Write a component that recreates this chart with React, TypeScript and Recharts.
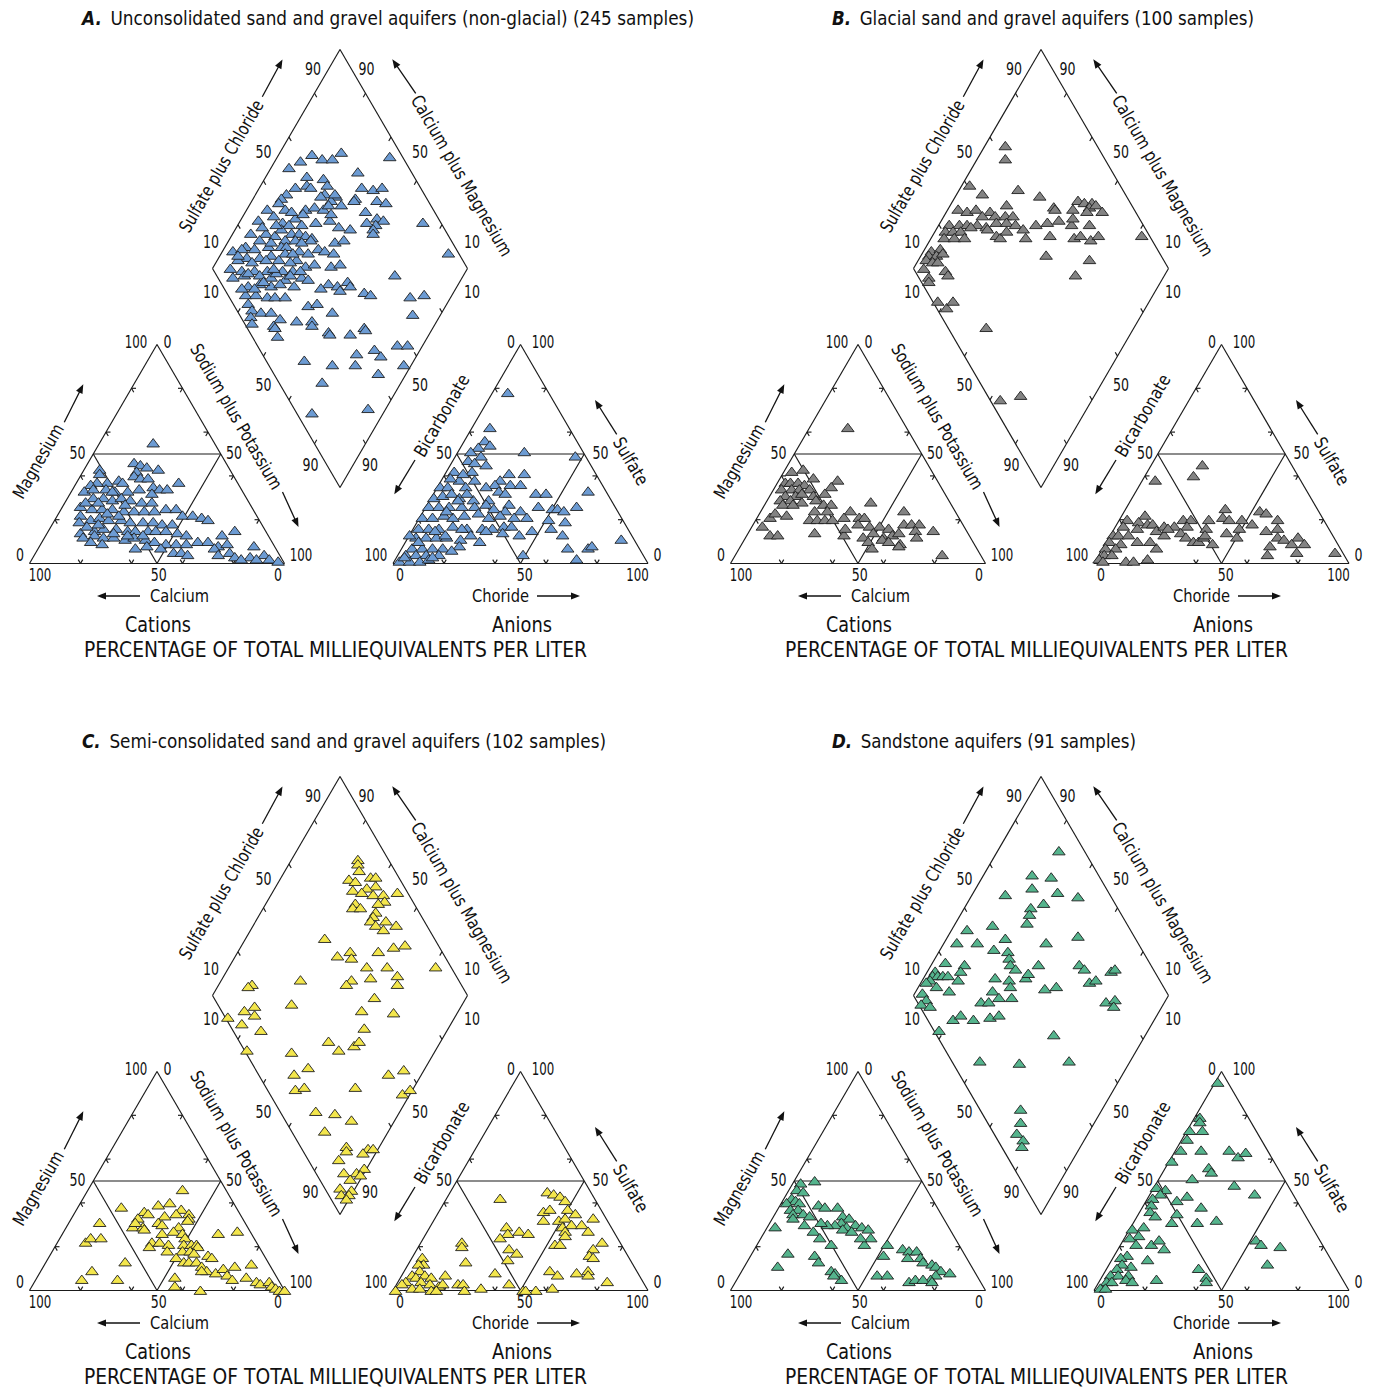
import React from 'react';
import { ScatterChart, Scatter, XAxis, YAxis, ReferenceLine } from 'recharts';

type Pair = [number, number];

// ---------------- DATA ----------------
// Cation triangle: [Calcium %, Magnesium %]  (Na+K = 100 - Ca - Mg)
// Anion triangle: [Chloride %, Sulfate %]    (HCO3 = 100 - Cl - SO4)
// Diamond: [Na+K %, SO4+Cl %]

const aCation: Pair[] = [[24,55],[36,46],[34,45],[32,44],[28,43],[37,42],[39,40],[37,39],[34,39],[23,37],[51,43],[52,41],[51,37],[46,38],[45,37],[55,37],[58,36],[62,33],[58,34],[53,34],[50,33],[45,33],[40,34],[34,35],[32,34],[29,34],[36,32],[67,26],[60,30],[56,30],[53,29],[49,30],[46,29],[42,28],[38,28],[34,25],[30,25],[69,22],[63,25],[59,25],[55,25],[51,24],[47,24],[43,24],[39,24],[29,22],[25,22],[22,21],[20,20],[71,19],[66,20],[62,21],[59,20],[54,20],[51,19],[46,19],[42,19],[39,18],[35,18],[73,14],[67,15],[63,16],[58,16],[54,15],[51,15],[46,15],[43,15],[39,15],[35,14],[32,13],[29,10],[73,12],[68,13],[65,12],[61,12],[57,11],[53,12],[49,11],[46,10],[42,9],[38,9],[34,9],[25,10],[22,8],[18,13],[12,15],[18,9],[45,7],[41,5],[38,5],[36,4],[24,7],[19,5],[24,4],[18,3],[12,3],[8,8],[6,4],[10,2],[5,2],[2,1],[16,2],[64,28],[59,28],[58,23],[54,22],[69,17],[64,18],[60,14],[55,13],[49,13],[71,10],[67,9],[55,7],[50,8],[51,33],[49,27]];
const aAnion: Pair[] = [[6,78],[7,62],[8,56],[11,54],[7,53],[5,51],[26,51],[47,49],[6,47],[10,49],[9,46],[14,45],[10,42],[3,42],[25,41],[31,41],[23,38],[1,35],[4,35],[7,38],[11,35],[22,36],[28,36],[32,36],[1,30],[4,31],[7,32],[11,30],[17,29],[23,29],[25,33],[28,32],[40,32],[44,32],[60,33],[1,26],[5,26],[9,26],[14,26],[19,26],[23,27],[27,25],[32,27],[32,24],[38,24],[44,26],[50,25],[52,25],[55,24],[59,26],[1,21],[5,21],[9,22],[13,21],[17,22],[22,23],[27,21],[31,22],[37,21],[42,21],[51,20],[58,19],[2,16],[6,16],[10,16],[15,17],[21,16],[27,16],[31,16],[35,17],[38,17],[47,15],[54,16],[3,12],[7,12],[11,12],[15,12],[21,11],[29,10],[29,15],[36,14],[43,13],[60,13],[84,11],[4,7],[8,7],[12,7],[16,7],[22,8],[65,7],[73,7],[74,8],[3,4],[7,4],[11,4],[16,4],[49,4],[71,2],[2,1],[6,1],[10,1],[13,2],[3,3],[0,13],[5,10],[9,15],[9,24],[11,29],[13,32],[14,13],[24,13],[19,16],[20,6],[14,3],[3,39],[7,41],[13,38],[19,35]];
const aDiamond: Pair[] = [[24,77],[44,95],[13,65],[10,59],[18,68],[22,72],[7,53],[35,79],[16,58],[23,64],[14,51],[18,56],[20,57],[26,64],[40,77],[45,81],[48,85],[12,46],[11,43],[27,61],[32,65],[40,72],[40,71],[49,80],[53,83],[11,41],[31,62],[36,65],[8,35],[15,42],[23,50],[26,54],[30,57],[31,60],[47,73],[12,36],[21,44],[30,51],[35,57],[17,38],[53,76],[56,78],[7,29],[25,45],[20,40],[54,74],[50,71],[72,93],[7,23],[13,29],[17,32],[18,36],[23,39],[26,42],[29,44],[32,46],[40,59],[45,63],[54,72],[55,71],[22,35],[26,39],[32,45],[12,25],[8,18],[4,12],[7,16],[12,21],[17,27],[22,32],[24,34],[37,46],[42,54],[45,58],[40,48],[44,51],[30,38],[34,41],[11,16],[16,21],[20,26],[25,32],[31,35],[8,12],[14,17],[24,28],[29,32],[36,37],[39,41],[89,96],[7,7],[12,11],[17,16],[22,21],[28,27],[32,31],[46,47],[49,51],[73,70],[10,6],[14,11],[20,17],[25,21],[31,26],[37,33],[40,35],[49,42],[56,50],[58,50],[18,10],[22,15],[27,19],[30,23],[36,28],[47,38],[53,45],[55,45],[65,54],[68,56],[84,71],[89,77],[19,7],[23,11],[28,15],[31,18],[35,22],[22,6],[25,6],[29,9],[33,13],[38,15],[45,21],[51,27],[26,4],[28,3],[52,26],[37,11],[38,11],[41,10],[46,29],[49,33],[57,37],[89,68],[60,31],[61,31],[69,39],[73,46],[74,46],[90,55],[94,59],[82,45],[86,46],[76,37],[78,34],[57,15],[69,25],[97,53],[89,41],[69,17],[72,6],[93,29],[7,13],[15,13],[23,17],[26,24],[32,29],[19,23],[24,24],[35,34],[21,12],[16,7],[28,35],[17,29],[29,41],[15,35],[18,44],[23,48],[34,59],[31,65],[26,59],[10,29]];

const bCation: Pair[] = [[23,62],[50,43],[55,42],[48,39],[39,38],[43,35],[60,37],[58,37],[55,37],[53,36],[63,34],[59,34],[56,34],[52,34],[63,31],[59,31],[56,32],[52,31],[47,32],[66,29],[62,29],[58,28],[66,27],[62,27],[52,29],[50,27],[47,27],[55,24],[50,24],[41,24],[31,28],[74,21],[67,22],[71,23],[59,20],[56,20],[53,20],[50,20],[45,21],[79,17],[78,13],[75,13],[60,14],[49,13],[47,16],[39,21],[37,21],[41,18],[37,17],[33,17],[30,16],[37,14],[34,12],[30,13],[27,14],[42,12],[41,10],[41,7],[35,11],[33,10],[29,9],[30,8],[20,24],[23,18],[20,18],[17,18],[20,15],[21,12],[13,15],[15,4]];
const bAnion: Pair[] = [[20,45],[19,40],[5,38],[3,20],[3,17],[9,22],[8,19],[12,18],[14,18],[17,15],[19,17],[23,17],[25,20],[28,20],[28,17],[27,14],[30,12],[34,10],[36,10],[37,12],[35,20],[36,16],[37,13],[42,9],[39,25],[40,21],[43,20],[48,20],[49,16],[53,18],[53,24],[56,23],[62,20],[60,15],[64,16],[66,12],[69,11],[74,12],[73,9],[78,9],[45,14],[50,12],[65,8],[66,4],[77,5],[92,5],[1,13],[3,13],[1,10],[6,9],[1,7],[5,7],[2,4],[5,4],[1,2],[3,1],[12,1],[15,1],[20,2],[21,7],[21,13],[21,16],[12,10],[17,10],[7,13],[9,16]];
const bDiamond: Pair[] = [[8,64],[11,61],[3,41],[10,44],[23,59],[33,66],[41,69],[42,69],[49,80],[52,82],[55,85],[55,83],[57,86],[61,87],[55,81],[49,76],[4,31],[8,34],[11,38],[17,43],[20,44],[22,51],[24,48],[27,51],[15,39],[15,35],[19,38],[4,24],[8,28],[11,31],[22,43],[26,47],[30,50],[34,52],[38,58],[42,63],[46,68],[52,72],[51,74],[59,79],[4,21],[7,24],[10,27],[13,32],[5,19],[9,23],[13,27],[20,38],[25,40],[27,41],[28,45],[37,51],[46,61],[56,70],[58,73],[63,76],[65,80],[82,97],[49,55],[67,71],[65,62],[3,11],[6,15],[3,9],[6,12],[8,15],[3,7],[6,9],[8,11],[13,12],[15,12],[4,4],[8,4],[9,3],[17,2],[22,4],[23,8],[42,15],[64,4],[71,13]];

const cCation: Pair[] = [[17,46],[45,38],[30,39],[25,40],[22,37],[37,36],[36,35],[25,35],[20,35],[41,33],[30,34],[21,33],[57,31],[45,29],[41,29],[41,28],[34,31],[33,30],[27,29],[22,32],[43,31],[35,26],[30,27],[27,26],[27,24],[13,26],[5,27],[67,22],[64,24],[60,24],[41,22],[38,22],[35,21],[29,21],[26,21],[24,21],[24,20],[43,20],[37,18],[31,18],[28,18],[27,17],[22,16],[21,15],[35,15],[33,13],[31,13],[28,13],[27,11],[26,9],[23,8],[28,9],[19,10],[14,11],[7,12],[56,13],[71,9],[77,5],[63,5],[40,6],[42,2],[33,0],[19,7],[18,5],[12,6],[9,4],[8,3],[4,4],[4,2],[3,1],[2,0],[0,0]];
const cAnion: Pair[] = [[21,42],[38,45],[41,44],[44,43],[47,41],[41,36],[43,37],[50,37],[54,35],[43,32],[49,32],[51,33],[55,30],[59,30],[63,27],[62,33],[30,29],[32,26],[30,24],[36,27],[40,26],[52,29],[54,27],[55,25],[53,21],[55,21],[71,22],[16,22],[17,20],[36,19],[40,17],[38,14],[22,13],[69,19],[69,16],[71,15],[57,9],[61,7],[68,8],[72,9],[73,7],[36,8],[44,3],[82,4],[4,15],[6,12],[4,12],[6,9],[4,7],[3,4],[6,6],[9,7],[12,6],[17,7],[9,4],[13,3],[17,2],[18,3],[2,3],[1,0],[7,1],[10,1],[15,0],[17,0],[24,3],[26,3],[28,0],[34,1],[51,0],[56,0],[62,1],[52,0]];
const cDiamond: Pair[] = [[26,88],[27,87],[29,86],[27,80],[30,82],[35,89],[37,91],[39,89],[36,85],[31,79],[35,82],[40,86],[44,90],[49,96],[35,77],[46,89],[35,75],[38,78],[44,86],[45,83],[51,85],[45,81],[45,79],[48,80],[52,82],[56,88],[31,57],[60,82],[64,87],[40,58],[44,64],[46,63],[55,75],[54,67],[62,75],[81,94],[68,77],[70,75],[31,38],[51,58],[50,55],[58,66],[64,63],[13,18],[12,16],[33,29],[19,14],[16,9],[21,12],[11,1],[18,5],[27,11],[62,55],[75,67],[67,52],[56,35],[62,37],[67,44],[68,47],[26,1],[44,18],[54,21],[50,14],[54,11],[57,15],[77,35],[87,51],[92,58],[97,52],[99,56],[67,14],[75,21],[83,26],[75,13],[87,18],[88,17],[96,26],[98,28],[87,12],[95,23],[92,11],[97,16],[99,20],[96,12],[99,17],[94,6],[99,10],[96,5],[99,8],[99,6]];

const dCation: Pair[] = [[48,49],[42,50],[51,46],[49,45],[55,42],[54,41],[58,40],[53,40],[58,37],[55,37],[58,35],[54,35],[52,34],[59,33],[56,30],[46,39],[44,38],[39,38],[39,34],[37,33],[41,31],[36,30],[40,29],[44,30],[47,30],[49,31],[42,28],[39,27],[34,29],[32,28],[33,24],[37,21],[37,24],[68,29],[54,27],[53,24],[50,21],[69,17],[59,16],[59,13],[76,11],[56,9],[55,8],[54,5],[56,7],[28,21],[32,16],[39,7],[35,7],[23,19],[21,18],[18,18],[23,15],[18,15],[18,13],[15,12],[14,11],[13,9],[10,8],[16,7],[19,5],[28,4],[25,5],[22,5],[19,4]];
const dAnion: Pair[] = [[1,95],[2,79],[3,77],[1,73],[6,73],[2,69],[2,64],[10,64],[21,64],[26,61],[28,63],[1,59],[17,56],[19,54],[13,51],[31,48],[41,44],[5,46],[1,47],[4,44],[2,42],[15,43],[12,41],[3,39],[4,36],[7,34],[23,38],[15,35],[15,31],[25,31],[32,32],[5,29],[1,28],[5,25],[2,24],[6,21],[12,21],[14,23],[18,19],[52,23],[55,21],[63,20],[62,12],[5,16],[3,15],[9,11],[14,14],[5,12],[4,10],[3,7],[6,7],[10,7],[3,4],[5,4],[10,5],[13,4],[2,1],[4,1],[22,5],[36,10],[41,6],[42,4]];
const dDiamond: Pair[] = [[24,90],[19,74],[27,81],[22,71],[33,80],[13,59],[42,87],[30,72],[26,66],[27,64],[28,61],[6,36],[15,47],[5,29],[13,37],[23,49],[40,64],[51,78],[21,42],[27,47],[29,46],[5,20],[13,27],[13,24],[31,45],[34,46],[42,56],[58,72],[61,73],[72,83],[73,85],[66,72],[68,75],[3,14],[3,12],[5,14],[7,16],[9,18],[3,10],[2,8],[7,11],[14,21],[13,15],[28,36],[34,41],[36,40],[40,48],[40,50],[30,32],[34,33],[28,25],[31,28],[39,38],[50,53],[54,58],[77,74],[80,78],[81,76],[3,4],[6,4],[5,1],[9,4],[21,10],[23,14],[29,18],[35,25],[38,29],[18,2],[64,46],[41,11],[57,26],[76,46],[68,16],[71,13],[72,9],[76,10],[77,8]];

const panelLetters = ['A.', 'B.', 'C.', 'D.'];
const panelTitles = [
  'Unconsolidated sand and gravel aquifers (non-glacial) (245 samples)',
  'Glacial sand and gravel aquifers (100 samples)',
  'Semi-consolidated sand and gravel aquifers (102 samples)',
  'Sandstone aquifers (91 samples)',
];
const panelColors = ['#6c9bd3', '#838383', '#f3e64c', '#55b48d'];

// ---------------- LAYOUT ----------------
const PAGE_W = 1374;
const PAGE_H = 1392;
const FONT = "'Liberation Sans Narrow','Arial Narrow','DejaVu Sans Condensed','Roboto Condensed','Liberation Sans',sans-serif";

const SIDE = 255;
const TRI_H = 219;
const CAT_X0 = 29.5;
const AN_X0 = 393;
const BASE_Y = 563.5;
const DIA_LX = 212.5;
const DIA_LY = 268.5;

const panelLayout = [
  { ox: 0, oy: 0, tx: 82, ty: 18, tw: 612 },
  { ox: 701, oy: 0, tx: 131, ty: 18, tw: 422 },
  { ox: 0, oy: 727, tx: 82, ty: 14, tw: 524 },
  { ox: 701, oy: 727, tx: 131, ty: 14, tw: 304 },
];

const cationPt = (ca: number, mg: number, ox: number, oy: number) => {
  const nak = 100 - ca - mg;
  return { x: ox + CAT_X0 + SIDE * (nak + mg / 2) / 100, y: oy + BASE_Y - TRI_H * mg / 100 };
};
const anionPt = (cl: number, so4: number, ox: number, oy: number) => ({
  x: ox + AN_X0 + SIDE * (cl + so4 / 2) / 100,
  y: oy + BASE_Y - TRI_H * so4 / 100,
});
const diamondPt = (nak: number, a: number, ox: number, oy: number) => ({
  x: ox + DIA_LX + (SIDE / 2) * (a + nak) / 100,
  y: oy + DIA_LY + TRI_H * (nak - a) / 100,
});

const panelData = [
  [aCation, aAnion, aDiamond],
  [bCation, bAnion, bDiamond],
  [cCation, cAnion, cDiamond],
  [dCation, dAnion, dDiamond],
];

type Seg = [number, number, number, number];

function buildSegments(ox: number, oy: number): Seg[] {
  const segs: Seg[] = [];
  const L = 4.5;
  const norm = (dx: number, dy: number) => {
    const l = Math.hypot(dx, dy);
    return [dx / l, dy / l];
  };
  const upR = norm(SIDE / 2, -TRI_H);
  const upL = norm(-SIDE / 2, -TRI_H);
  const fr = [0.2, 0.4, 0.6, 0.8];
  [CAT_X0, AN_X0].forEach((bx0) => {
    const bx = ox + bx0, by = oy + BASE_Y;
    const BL = [bx, by], BR = [bx + SIDE, by], T = [bx + SIDE / 2, by - TRI_H];
    segs.push([BL[0], BL[1], BR[0], BR[1]], [BR[0], BR[1], T[0], T[1]], [T[0], T[1], BL[0], BL[1]]);
    const mL = [(BL[0] + T[0]) / 2, (BL[1] + T[1]) / 2];
    const mR = [(BR[0] + T[0]) / 2, (BR[1] + T[1]) / 2];
    const mB = [(BL[0] + BR[0]) / 2, BL[1]];
    segs.push([mL[0], mL[1], mR[0], mR[1]], [mR[0], mR[1], mB[0], mB[1]], [mB[0], mB[1], mL[0], mL[1]]);
    fr.forEach((f) => {
      const pb = [BL[0] + f * SIDE, BL[1]];
      segs.push([pb[0], pb[1], pb[0] + upL[0] * L, pb[1] + upL[1] * L], [pb[0], pb[1], pb[0] + upR[0] * L, pb[1] + upR[1] * L]);
      const pl = [BL[0] + f * (T[0] - BL[0]), BL[1] + f * (T[1] - BL[1])];
      segs.push([pl[0], pl[1], pl[0] + L, pl[1]], [pl[0], pl[1], pl[0] - upL[0] * L, pl[1] - upL[1] * L]);
      const pr = [BR[0] + f * (T[0] - BR[0]), BR[1] + f * (T[1] - BR[1])];
      segs.push([pr[0], pr[1], pr[0] - L, pr[1]], [pr[0], pr[1], pr[0] - upR[0] * L, pr[1] - upR[1] * L]);
    });
  });
  const Lv = [ox + DIA_LX, oy + DIA_LY];
  const Tv = [Lv[0] + SIDE / 2, Lv[1] - TRI_H];
  const Rv = [Lv[0] + SIDE, Lv[1]];
  const Bv = [Lv[0] + SIDE / 2, Lv[1] + TRI_H];
  segs.push([Lv[0], Lv[1], Tv[0], Tv[1]], [Tv[0], Tv[1], Rv[0], Rv[1]], [Rv[0], Rv[1], Bv[0], Bv[1]], [Bv[0], Bv[1], Lv[0], Lv[1]]);
  const u = norm(SIDE / 2, -TRI_H);
  const v = norm(SIDE / 2, TRI_H);
  const edges: [number[], number[], number[]][] = [
    [Lv, Tv, v],
    [Tv, Rv, [-u[0], -u[1]]],
    [Lv, Bv, u],
    [Bv, Rv, [-v[0], -v[1]]],
  ];
  edges.forEach(([a, b, d]) => {
    fr.forEach((f) => {
      const p = [a[0] + f * (b[0] - a[0]), a[1] + f * (b[1] - a[1])];
      segs.push([p[0], p[1], p[0] + d[0] * L, p[1] + d[1] * L]);
    });
  });
  return segs;
}

type Lab = {
  x: number; y: number; kind: 'text' | 'arrow' | 'title';
  text?: string; letter?: string; size?: number; len?: number; rot?: number;
  hx?: number; hy?: number;
};

function buildLabels(i: number): Lab[] {
  const { ox, oy, tx, ty, tw } = panelLayout[i];
  const out: Lab[] = [];
  const t = (text: string, x: number, y: number, size: number, len?: number, rot?: number) =>
    out.push({ kind: 'text', text, x: ox + x, y: oy + y, size, len, rot });
  const a = (x: number, y: number, hx: number, hy: number) =>
    out.push({ kind: 'arrow', x: ox + x, y: oy + y, hx: ox + hx, hy: oy + hy });
  const n = 17.5;
  const al = 18;
  const dia: [string, number, number][] = [
    ['90', 313, 69], ['90', 366.5, 69], ['50', 263.5, 152], ['50', 420, 152],
    ['10', 211, 241.5], ['10', 472, 241.5], ['10', 211, 291.5], ['10', 472, 291.5],
    ['50', 263.5, 385], ['50', 420, 385], ['90', 310.5, 465], ['90', 370, 465],
  ];
  const tri: [string, number, number][] = [
    ['100', 136, 342], ['0', 167.5, 342], ['50', 77.5, 452.5], ['50', 234, 452.5],
    ['0', 20, 555], ['100', 301, 555], ['100', 40, 575], ['50', 158.7, 575], ['0', 278, 575],
    ['0', 511, 342], ['100', 543, 342], ['50', 444, 452.5], ['50', 600.5, 452.5],
    ['100', 376, 555], ['0', 657.5, 555], ['0', 400, 575], ['50', 524.7, 575], ['100', 637.5, 575],
  ];
  [...dia, ...tri].forEach(([s, x, y]) => t(s, x, y, n, s.length === 1 ? 8 : s.length === 2 ? 16 : 22.5));
  t('Sulfate plus Chloride', 221, 166, al, 150, -59.8);
  t('Calcium plus Magnesium', 462, 175.5, al, 183, 59.8);
  t('Magnesium', 38, 461, al, 83, -59.8);
  t('Sodium plus Potassium', 236.5, 416.5, al, 165, 59.8);
  t('Bicarbonate', 441.5, 415.5, al, 92, -59.8);
  t('Sulfate', 631, 461, al, 52, 59.8);
  t('Calcium', 179.5, 596, 17, 59);
  t('Choride', 500.5, 596, 17, 57);
  t('Cations', 158, 625, 20.5, 66);
  t('Anions', 522, 625, 20.5, 60);
  t('PERCENTAGE OF TOTAL MILLIEQUIVALENTS PER LITER', 335.5, 650, 20.5, 503);
  a(262.3, 96.7, 282.5, 59.5);
  a(415.7, 93.3, 392.3, 59.3);
  a(64.3, 422.3, 83.3, 384.3);
  a(282.5, 492, 298.5, 527);
  a(415, 460, 394.3, 494.3);
  a(616.7, 434.3, 595, 400);
  a(140, 596, 97, 596);
  a(537, 596, 580, 596);
  out.push({ kind: 'title', x: ox + tx, y: oy + ty, letter: panelLetters[i], text: panelTitles[i], size: 19.5, len: tw });
  return out;
}

const LabelShape = (props: any) => {
  const { cx, cy, payload } = props;
  if (cx == null || cy == null || !payload) return null;
  const p = payload as Lab;
  if (p.kind === 'text') {
    return (
      <text
        x={cx}
        y={cy}
        textAnchor="middle"
        dominantBaseline="central"
        fontSize={p.size}
        fontFamily={FONT}
        fill="#111"
        textLength={p.len}
        lengthAdjust="spacingAndGlyphs"
        transform={p.rot ? `rotate(${p.rot} ${cx} ${cy})` : undefined}
      >
        {p.text}
      </text>
    );
  }
  if (p.kind === 'arrow') {
    const dx = (p.hx as number) - p.x;
    const dy = (p.hy as number) - p.y;
    const len = Math.hypot(dx, dy);
    const ux = dx / len, uy = dy / len;
    const x2 = cx + dx, y2 = cy + dy;
    const hl = 9, hw = 3.6;
    const bx = x2 - ux * hl, by = y2 - uy * hl;
    return (
      <g>
        <line x1={cx} y1={cy} x2={bx + ux * 1} y2={by + uy * 1} stroke="#111" strokeWidth={1.3} />
        <polygon points={`${x2},${y2} ${bx - uy * hw},${by + ux * hw} ${bx + uy * hw},${by - ux * hw}`} fill="#111" />
      </g>
    );
  }
  if (p.kind === 'title') {
    return (
      <text x={cx} y={cy} dominantBaseline="central" fontSize={p.size} fontFamily={FONT} fill="#111" textLength={p.len} lengthAdjust="spacingAndGlyphs">
        <tspan fontWeight="bold" fontStyle="italic">{p.letter}</tspan>
        <tspan dx={9}>{p.text}</tspan>
      </text>
    );
  }
  return null;
};

const makeTri = (color: string) => (props: any) => {
  const { cx, cy } = props;
  if (cx == null || cy == null) return null;
  return (
    <polygon
      points={`${cx},${cy - 4.5} ${cx + 6.3},${cy + 3.9} ${cx - 6.3},${cy + 3.9}`}
      fill={color}
      stroke="#1e1e1e"
      strokeWidth={0.9}
      strokeLinejoin="miter"
    />
  );
};

export default function App() {
  const segs: Seg[] = [];
  panelLayout.forEach((pl) => segs.push(...buildSegments(pl.ox, pl.oy)));
  const labels: Lab[] = [];
  panelLayout.forEach((_, i) => labels.push(...buildLabels(i)));
  const pointSets = panelData.map(([cat, an, dia], i) => {
    const { ox, oy } = panelLayout[i];
    return [
      ...cat.map(([ca, mg]) => cationPt(ca, mg, ox, oy)),
      ...an.map(([cl, so4]) => anionPt(cl, so4, ox, oy)),
      ...dia.map(([nak, sc]) => diamondPt(nak, sc, ox, oy)),
    ];
  });
  return (
    <div style={{ position: 'absolute', left: 0, top: 0, width: PAGE_W, height: PAGE_H, background: '#fff', overflow: 'hidden' }}>
      <ScatterChart width={PAGE_W} height={PAGE_H} margin={{ top: 0, right: 0, bottom: 0, left: 0 }}>
        <XAxis type="number" dataKey="x" domain={[0, PAGE_W]} hide allowDataOverflow />
        <YAxis type="number" dataKey="y" domain={[0, PAGE_H]} reversed hide allowDataOverflow />
        {segs.map((s, i) => (
          <ReferenceLine
            key={'s' + i}
            segment={[{ x: s[0], y: s[1] }, { x: s[2], y: s[3] }]}
            stroke="#1a1a1a"
            strokeWidth={1.15}
            ifOverflow="visible"
          />
        ))}
        <Scatter data={labels} shape={LabelShape} isAnimationActive={false} />
        {pointSets.map((pts, i) => (
          <Scatter key={'p' + i} data={pts} shape={makeTri(panelColors[i])} isAnimationActive={false} />
        ))}
      </ScatterChart>
    </div>
  );
}
